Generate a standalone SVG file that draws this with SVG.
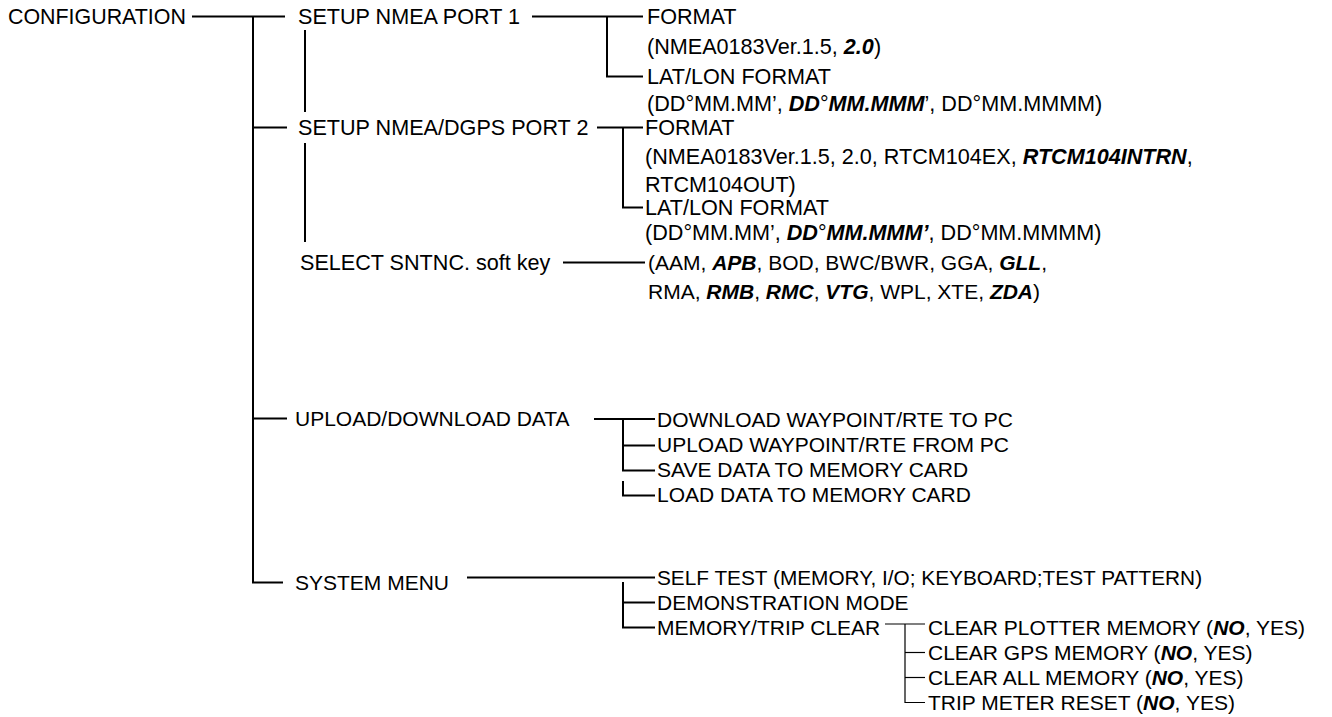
<svg xmlns="http://www.w3.org/2000/svg" width="1332" height="717" viewBox="0 0 1332 717">
<style>
text{font-family:"Liberation Sans",Arial,sans-serif;font-size:21px;fill:#000}
.t{font-size:21.6px}
.bi{font-weight:bold;font-style:italic}
.c line,.c path{stroke:#000;stroke-width:2;fill:none}
.c .thin{stroke-width:1.2}
</style>
<rect width="1332" height="717" fill="#fff"/>
<g id="connectors" class="c">
<line x1="192" y1="16.5" x2="285" y2="16.5"/>
<path d="M253 16.5 V582.5 H283"/>
<line x1="253" y1="127.5" x2="287" y2="127.5"/>
<line x1="253" y1="418.5" x2="287" y2="418.5"/>
<line x1="305" y1="30" x2="305" y2="112"/>
<line x1="305" y1="143" x2="305" y2="242"/>
<line x1="532" y1="16.5" x2="643" y2="16.5"/>
<path d="M607 16.5 V76.5 H643"/>
<line x1="597" y1="127.5" x2="643" y2="127.5"/>
<path d="M623 127.5 V207.5 H643"/>
<line x1="563" y1="262.5" x2="645" y2="262.5"/>
<line x1="594" y1="419" x2="655" y2="419"/>
<path d="M623 419 V470.5 H655"/>
<line x1="623" y1="445.5" x2="655" y2="445.5"/>
<path d="M623 481 V495.5 H655"/>
<line x1="467" y1="577.5" x2="655" y2="577.5"/>
<path d="M623 582 V627.5 H655"/>
<line x1="623" y1="602.5" x2="655" y2="602.5"/>
<line class="thin" x1="885" y1="624" x2="925" y2="624"/>
<path class="thin" d="M905 624 V702.5 H925"/>
<line class="thin" x1="905" y1="652.5" x2="925" y2="652.5"/>
<line class="thin" x1="905" y1="677.5" x2="925" y2="677.5"/>
</g>
<g id="configuration"><text x="8" y="24" style="font-size:21.4px">CONFIGURATION</text></g>
<g id="setup-port1"><text class="t" x="298" y="24">SETUP NMEA PORT 1</text></g>
<g id="p1-format"><text class="t" x="647" y="24">FORMAT</text><text class="t" x="647" y="54">(NMEA0183Ver.1.5, <tspan class="bi">2.0</tspan>)</text></g>
<g id="p1-latlon"><text class="t" x="647" y="84">LAT/LON FORMAT</text><text class="t" x="647" y="111">(DD°MM.MM’, <tspan class="bi">DD</tspan>°<tspan class="bi">MM.MMM</tspan>’, DD°MM.MMMM)</text></g>
<g id="setup-port2"><text class="t" x="298" y="135">SETUP NMEA/DGPS PORT 2</text></g>
<g id="p2-format"><text class="t" x="645" y="135">FORMAT</text><text class="t" x="645" y="164">(NMEA0183Ver.1.5, 2.0, RTCM104EX, <tspan class="bi">RTCM104INTRN</tspan>,</text><text class="t" x="645" y="192">RTCM104OUT)</text></g>
<g id="p2-latlon"><text class="t" x="645" y="215">LAT/LON FORMAT</text><text class="t" x="645" y="240">(DD°MM.MM’, <tspan class="bi">DD</tspan>°<tspan class="bi">MM.MMM’</tspan>, DD°MM.MMMM)</text></g>
<g id="select-sntnc"><text class="t" x="300" y="270">SELECT SNTNC. soft key</text></g>
<g id="sentences"><text x="648" y="270">(AAM, <tspan class="bi">APB</tspan>, BOD, BWC/BWR, GGA, <tspan class="bi">GLL</tspan>,</text><text x="648" y="299">RMA, <tspan class="bi">RMB</tspan>, <tspan class="bi">RMC</tspan>, <tspan class="bi">VTG</tspan>, WPL, XTE, <tspan class="bi">ZDA</tspan>)</text></g>
<g id="upload-download"><text x="295" y="426">UPLOAD/DOWNLOAD DATA</text></g>
<g id="download-wpt"><text x="657" y="427">DOWNLOAD WAYPOINT/RTE TO PC</text></g>
<g id="upload-wpt"><text x="657" y="452">UPLOAD WAYPOINT/RTE FROM PC</text></g>
<g id="save-data"><text x="657" y="477">SAVE DATA TO MEMORY CARD</text></g>
<g id="load-data"><text x="657" y="502">LOAD DATA TO MEMORY CARD</text></g>
<g id="system-menu"><text x="295" y="590">SYSTEM MENU</text></g>
<g id="self-test"><text x="657" y="585" style="font-size:20.8px">SELF TEST (MEMORY, I/O; KEYBOARD;TEST PATTERN)</text></g>
<g id="demo-mode"><text x="657" y="610">DEMONSTRATION MODE</text></g>
<g id="memory-trip-clear"><text x="657" y="635">MEMORY/TRIP CLEAR</text></g>
<g id="clear-plotter"><text x="928" y="635">CLEAR PLOTTER MEMORY (<tspan class="bi">NO</tspan>, YES)</text></g>
<g id="clear-gps"><text x="928" y="660">CLEAR GPS MEMORY (<tspan class="bi">NO</tspan>, YES)</text></g>
<g id="clear-all"><text x="928" y="685">CLEAR ALL MEMORY (<tspan class="bi">NO</tspan>, YES)</text></g>
<g id="trip-reset"><text x="928" y="710">TRIP METER RESET (<tspan class="bi">NO</tspan>, YES)</text></g>
</svg>
